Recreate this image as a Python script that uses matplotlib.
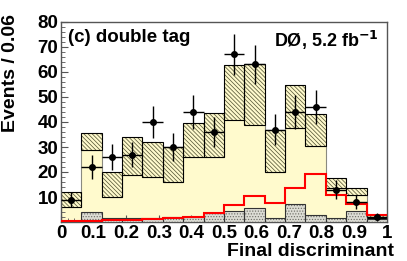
import numpy as np
import matplotlib
matplotlib.use("Agg")
import matplotlib.pyplot as plt
from matplotlib.ticker import MultipleLocator

plt.rcParams['font.family'] = ['Liberation Sans', 'DejaVu Sans']
plt.rcParams['font.weight'] = 'bold'
plt.rcParams['hatch.linewidth'] = 0.55

# 16 bins on the final discriminant (0..1)
bin_edges = np.linspace(0, 1, 17)

# background band (lower / upper edge of the hatched uncertainty band)
band_low = [6, 29, 10, 19, 18, 16, 26, 26, 41, 39, 20, 37.5, 30.4, 13.5, 10.8, 1.5]
band_high = [12, 35.5, 20, 34, 32, 30, 39.5, 43.5, 63, 63, 37, 55, 43, 17.5, 13.5, 3]
# small stippled component at the bottom
small_bkg = [0.3, 3.9, 1.5, 1.7, 1.5, 2.1, 1.9, 3.8, 4.5, 5.5, 1.6, 7.1, 2.7, 1.5, 4.4, 1.2]
# signal (red line)
signal = [0.4, 0.4, 0.7, 0.7, 1.2, 1.8, 2.1, 3.7, 6.8, 10.5, 7.6, 13.8, 19.1, 10.8, 7.1, 2.8]
# data
data = [9, 22, 26, 27, 40, 30, 44, 36, 67, 63, 37, 44, 46, 13, 8, 2]

yellow = '#fffacd'

fig = plt.figure(figsize=(4.07, 2.61), dpi=100)
ax = fig.add_axes([61 / 407, 39 / 261, 326 / 407, 200 / 261])

centers = 0.5 * (bin_edges[:-1] + bin_edges[1:])
width = np.diff(bin_edges)
low = np.array(band_low)
high = np.array(band_high)

# total background fill
ax.stairs(band_low, bin_edges, fill=True, color=yellow, zorder=1)
ax.stairs(band_low, bin_edges, color='#8a8a80', lw=0.8, zorder=1.5)

# hatched band
ax.bar(centers, high - low, width=width, bottom=low, color=yellow,
       edgecolor='#5a5a3a', hatch='\\\\\\\\\\\\\\\\', linewidth=0, zorder=2)
ax.bar(centers, high - low, width=width, bottom=low, fill=False,
       edgecolor='black', linewidth=0.8, zorder=2.5)

# stippled small background
ax.bar(centers, small_bkg, width=width, color='#dcdcd4', edgecolor='#707068',
       hatch='......', linewidth=0, zorder=3)
ax.bar(centers, small_bkg, width=width, fill=False, edgecolor='#333333',
       linewidth=0.8, zorder=3.5)

# signal
ax.stairs(signal, bin_edges, baseline=None, color='red', lw=1.5, zorder=4)

# data points
ax.errorbar(centers, data, xerr=width / 2, yerr=np.sqrt(data), fmt='o',
            color='black', ms=4, elinewidth=1, capsize=0, zorder=5)

ax.set_xlim(0, 1)
ax.set_ylim(0, 80)
ax.set_xticks(np.arange(0, 1.01, 0.1))
ax.set_xticklabels(['0', '0.1', '0.2', '0.3', '0.4', '0.5', '0.6', '0.7', '0.8', '0.9', '1'])
ax.set_yticks(np.arange(10, 81, 10))
ax.xaxis.set_minor_locator(MultipleLocator(0.02))
ax.yaxis.set_minor_locator(MultipleLocator(2))
ax.tick_params(which='both', direction='in', top=False, right=False, labelsize=13.5, pad=2)
ax.tick_params(which='major', length=5, width=0.8, color='#555555')
ax.tick_params(which='minor', length=3, width=0.6, color='#555555')
for lab in ax.get_xticklabels() + ax.get_yticklabels():
    lab.set_fontweight('bold')
for sp in ax.spines.values():
    sp.set_color('#555555')
    sp.set_linewidth(1.0)

ax.set_xlabel('Final discriminant', fontsize=14, fontweight='bold', loc='right')
ax.set_ylabel('Events / 0.06', fontsize=14, fontweight='bold', loc='top')
ax.xaxis.set_label_coords(1.02, -0.105)
ax.yaxis.set_label_coords(-0.13, 1.04)

ax.text(0.022, 0.965, '(c) double tag', transform=ax.transAxes, fontsize=13.5,
        fontweight='bold', ha='left', va='top')
ax.text(0.975, 0.965, 'DØ, 5.2 fb$^{\\mathbf{-1}}$', transform=ax.transAxes, fontsize=13,
        fontweight='bold', ha='right', va='top')

fig.savefig('out.png', dpi=100, facecolor='white')
